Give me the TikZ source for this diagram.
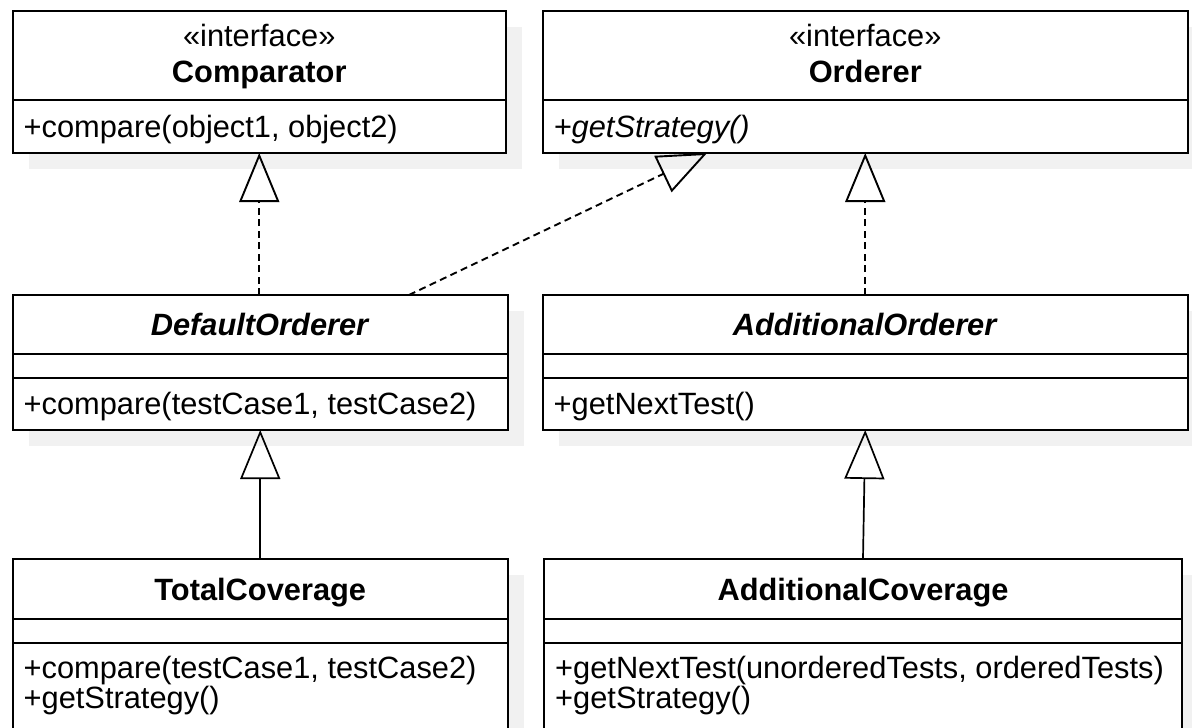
\documentclass[tikz,border=0pt]{standalone}
\usepackage{fontspec}
\setmainfont{Liberation Sans}
\usetikzlibrary{arrows.meta,calc,backgrounds}
\newcommand\umlsize{\fontsize{30.8}{30}\selectfont}
\definecolor{dropgray}{HTML}{F1F1F1}
\begin{document}
\begin{tikzpicture}[x=1pt,y=-1pt,
  umlbox/.style={draw, line width=2pt, fill=white, rectangle, inner sep=0pt,
                 outer sep=0pt, anchor=north west},
  sepline/.style={line width=2pt},
  lbl/.style={inner sep=0pt, font=\umlsize},
  dropfill/.style={fill=dropgray, draw=none},
  realize/.style={line width=1.9pt, dash pattern=on 7pt off 4.5pt,
                  -{Triangle[open, length=49pt, width=40pt]}},
  inherit/.style={line width=1.7pt, -{Triangle[open, length=49pt, width=40pt]}}]

\useasboundingbox (0,0) rectangle (1192,728);
\clip (0,0) rectangle (1192,728);

% class boxes
\node[umlbox, minimum width=493.5pt, minimum height=142pt] (cmp) at (12.5,11) {};
\node[umlbox, minimum width=645.5pt, minimum height=142pt] (ord) at (542.5,11) {};
\node[umlbox, minimum width=495.5pt, minimum height=135pt] (dfo) at (12.5,295) {};
\node[umlbox, minimum width=645.5pt, minimum height=135pt] (ado) at (542.5,295) {};
\node[umlbox, minimum width=495.5pt, minimum height=200pt] (tot) at (12.5,558.5) {};
\node[umlbox, minimum width=638pt,   minimum height=200pt] (adc) at (544,558.5) {};

% drop shadows behind the boxes
\begin{scope}[on background layer]
  \foreach \b in {cmp,ord,dfo,ado,tot,adc}
    \fill[dropfill] ([shift={(16,16)}]\b.north west) rectangle ([shift={(16,16)}]\b.south east);
\end{scope}

% compartment separators
\draw[sepline] (cmp.west |- 0,100) -- (cmp.east |- 0,100);
\draw[sepline] (ord.west |- 0,100) -- (ord.east |- 0,100);
\foreach \b in {dfo,ado} {
  \draw[sepline] (\b.west |- 0,354) -- (\b.east |- 0,354);
  \draw[sepline] (\b.west |- 0,378) -- (\b.east |- 0,378);
}
\foreach \b in {tot,adc} {
  \draw[sepline] (\b.west |- 0,619) -- (\b.east |- 0,619);
  \draw[sepline] (\b.west |- 0,643) -- (\b.east |- 0,643);
}

% Comparator
\node[lbl, anchor=base] (cmps) at (cmp.north |- 0,46) {«interface»};
\node[lbl, anchor=base] (cmpn) at (cmp.north |- 0,82.5) {\textbf{Comparator}};
\node[lbl, anchor=base west] (cmpm) at (23.5,137) {+compare(object1, object2)};

% Orderer
\node[lbl, anchor=base] (ords) at (ord.north |- 0,46) {«interface»};
\node[lbl, anchor=base] (ordn) at (ord.north |- 0,82.5) {\textbf{Orderer}};
\node[lbl, anchor=base west] (ordm) at (553.5,137) {\textit{+getStrategy()}};

% DefaultOrderer
\node[lbl, anchor=base] (dfon) at (dfo.north |- 0,335) {\textbf{\textit{DefaultOrderer}}};
\node[lbl, anchor=base west] (dfom) at (23.5,414) {+compare(testCase1, testCase2)};

% AdditionalOrderer
\node[lbl, anchor=base] (adon) at (ado.north |- 0,335) {\textbf{\textit{AdditionalOrderer}}};
\node[lbl, anchor=base west] (adom) at (553.5,414) {+getNextTest()};

% TotalCoverage
\node[lbl, anchor=base] (totn) at (tot.north |- 0,600) {\textbf{TotalCoverage}};
\node[lbl, anchor=base west] (totm1) at (23.5,678) {+compare(testCase1, testCase2)};
\node[lbl, anchor=base west] (totm2) at (23.5,708) {+getStrategy()};

% AdditionalCoverage
\node[lbl, anchor=base] (adcn) at (adc.north |- 0,600) {\textbf{AdditionalCoverage}};
\node[lbl, anchor=base west] (adcm1) at (555,678) {+getNextTest(unorderedTests, orderedTests)};
\node[lbl, anchor=base west] (adcm2) at (555,708) {+getStrategy()};

% relations
\coordinate (dfoR) at ($(dfo.north west)!0.8!(dfo.north east)$);
\coordinate (ordL) at ($(ord.south west)!0.255!(ord.south east)$);
\draw[realize] (cmp.south |- dfo.north) -- (cmp.south);
\draw[realize] (dfoR) -- (ordL);
\draw[realize] (ado.north) -- (ord.south);
\draw[inherit] (tot.north) -- (dfo.south);
\draw[inherit] (adc.north) -- (ado.south);
\end{tikzpicture}
\end{document}
